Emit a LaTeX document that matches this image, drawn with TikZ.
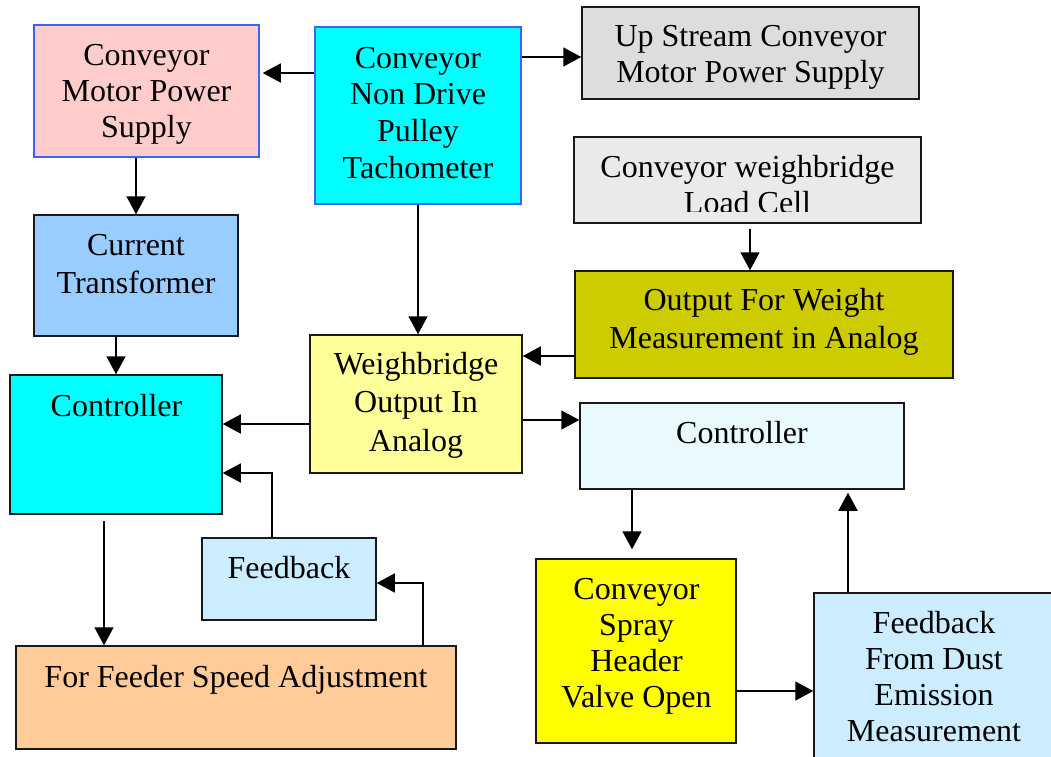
\documentclass[tikz,border=0pt]{standalone}
\usepackage{fontspec}
\setmainfont{Liberation Serif}
\usetikzlibrary{arrows.meta}
\definecolor{bordblue}{RGB}{60,100,250}
\definecolor{cpink}{HTML}{FFCCCC}
\definecolor{ccyan}{HTML}{00FFFF}
\definecolor{cgrey}{HTML}{DDDDDD}
\definecolor{clight}{HTML}{EAEAEA}
\definecolor{cblue}{HTML}{99CCFF}
\definecolor{colive}{HTML}{CCCC00}
\definecolor{cpale}{HTML}{FFFF99}
\definecolor{cfb}{HTML}{CCECFF}
\definecolor{corange}{HTML}{FFCC99}
\definecolor{cctr}{HTML}{E8F9FF}
\definecolor{cyel}{HTML}{FFFF00}
\begin{document}
\begin{tikzpicture}[x=1pt,y=-1pt,
  box/.style={draw=black!90, line width=1.5pt, rectangle, inner sep=0pt},
  bluebox/.style={box, draw=bordblue},
  txt/.style={font=\fontsize{32pt}{#1}\selectfont, align=center, anchor=base, inner sep=0pt},
  txt/.default=36.8pt,
  arr/.style={line width=1.6pt, -{Triangle[length=18pt,width=19pt]}}]
\useasboundingbox (0,0) rectangle (1051,756);
\clip (0,0) rectangle (1051,756);
% boxes
\node[bluebox, fill=cpink, minimum width=225pt, minimum height=132pt] (b1) at (146.5,91) {};
\node[bluebox, fill=ccyan, minimum width=206pt, minimum height=177pt] (tach) at (418,115.5) {};
\node[box, fill=cgrey, minimum width=337pt, minimum height=92pt] (ups) at (750.5,53) {};
\node[box, fill=clight, minimum width=347pt, minimum height=86pt] (load) at (747.5,180) {};
\node[box, fill=cblue, minimum width=204pt, minimum height=121pt] (ct) at (136,275.5) {};
\node[box, fill=colive, minimum width=378pt, minimum height=107pt] (out) at (764,324.5) {};
\node[box, fill=cpale, minimum width=212pt, minimum height=138pt] (wb) at (416,404) {};
\node[box, fill=ccyan, minimum width=212pt, minimum height=139pt] (ctl) at (116,444.5) {};
\node[box, fill=cctr, minimum width=324pt, minimum height=86pt] (ctr) at (742,446) {};
\node[box, fill=cfb, minimum width=174pt, minimum height=82pt] (fb) at (289,579) {};
\node[box, fill=corange, minimum width=440pt, minimum height=103pt] (feed) at (236,697.5) {};
\node[box, fill=cyel, minimum width=200pt, minimum height=184pt] (spray) at (636,651) {};
\node[box, fill=cfb, minimum width=246pt, minimum height=182pt] (dust) at (937,684) {};
% texts (anchor=base is the baseline of the last line)
\node[txt=36pt] (t1) at (146.5,137.7) {Conveyor\\Motor Power\\Supply};
\node[txt=36.7pt] (t2) at (418,178.1) {Conveyor\\Non Drive\\Pulley\\Tachometer};
\node[txt=36pt] (t3) at (750.5,82) {Up Stream Conveyor\\Motor Power Supply};
\begin{scope}
\clip (574,137) rectangle (921,211);
\node[txt=36.5pt] (t4) at (747.5,213.5) {Conveyor weighbridge\\Load Cell};
\end{scope}
\node[txt=38pt] (t5) at (136,293) {Current\\Transformer};
\node[txt=38pt] (t6) at (764,348) {Output For Weight\\Measurement in Analog};
\node[txt=38.5pt] (t7) at (416,451) {Weighbridge\\Output In\\Analog};
\node[txt] (t8) at (116.5,416) {Controller};
\node[txt] (t9) at (742,443) {Controller};
\node[txt] (t10) at (289,578) {Feedback};
\node[txt] (t11) at (236,687) {For Feeder Speed Adjustment};
\node[txt=36.3pt] (t12) at (636.5,707.9) {Conveyor\\Spray\\Header\\Valve Open};
\node[txt=36.3pt] (t13) at (934,741.9) {Feedback\\From Dust\\Emission\\Measurement};
% connectors
\coordinate (a1) at ([yshift=42.5pt]tach.west);
\draw[arr, shorten >=3pt] (a1) -- (a1 -| b1.east);
\coordinate (a2) at ([yshift=58.5pt]tach.east);
\draw[arr] (a2) -- (a2 -| ups.west);
\coordinate (a3) at ([xshift=-10.5pt]b1.south);
\draw[arr] (a3) -- (a3 |- ct.north);
\draw[arr] (tach.south) -- (tach.south |- wb.north);
\coordinate (a5) at ([xshift=2.5pt]load.south);
\draw[arr, shorten <=5pt] (a5) -- (a5 |- out.north);
\coordinate (a6) at ([yshift=-31.5pt]out.west);
\draw[arr] (a6) -- (a6 -| wb.east);
\coordinate (a7) at ([xshift=-20pt]ct.south);
\draw[arr] (a7) -- (a7 |- ctl.north);
\coordinate (a8) at ([yshift=-20pt]wb.west);
\draw[arr] (a8) -- (a8 -| ctl.east);
\coordinate (a9) at ([yshift=-16pt]wb.east);
\draw[arr] (a9) -- (a9 -| ctr.west);
\coordinate (a10) at ([xshift=-17pt]fb.north);
\coordinate (a10b) at ([yshift=-28.5pt]ctl.east);
\draw[arr] (a10) |- (a10b);
\coordinate (a11) at ([xshift=-12pt]ctl.south);
\draw[arr, shorten <=6pt] (a11) -- (a11 |- feed.north);
\coordinate (a12) at ([xshift=187pt]feed.north);
\coordinate (a12b) at ([yshift=-4pt]fb.east);
\draw[arr] (a12) |- (a12b);
\coordinate (a13) at ([xshift=-110pt]ctr.south);
\draw[arr, shorten >=9pt] (a13) -- (a13 |- spray.north);
\coordinate (a14) at ([yshift=-40pt]spray.east);
\draw[arr] (a14) -- (a14 -| dust.west);
\coordinate (a15) at ([xshift=-89pt]dust.north);
\draw[arr, shorten >=3pt] (a15) -- (a15 |- ctr.south);
\end{tikzpicture}
\end{document}
